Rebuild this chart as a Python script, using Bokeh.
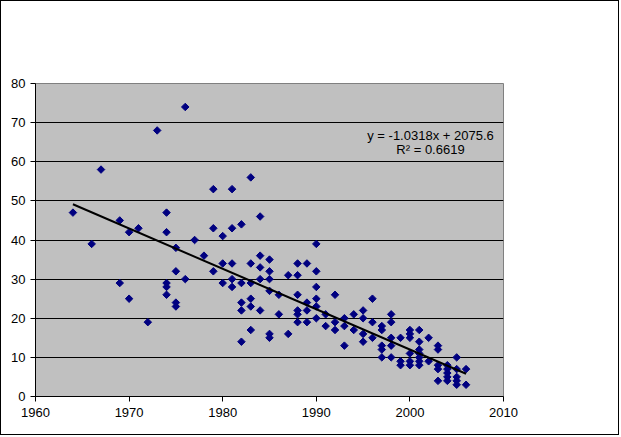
import numpy as np
from bokeh.plotting import figure
from bokeh.models import Label, Range1d, FixedTicker
from bokeh.embed import file_html
from bokeh.resources import INLINE

# ---- data ----
years = [1964, 1966, 1967,
         1969, 1969, 1970, 1970, 1971, 1972, 1973,
         1974, 1974, 1974, 1974, 1974,
         1975, 1975, 1975, 1975,
         1976, 1976, 1977, 1978,
         1979, 1979, 1979,
         1980, 1980, 1980,
         1981, 1981, 1981, 1981, 1981,
         1982, 1982, 1982, 1982, 1982,
         1983, 1983, 1983, 1983, 1983, 1983,
         1984, 1984, 1984, 1984, 1984,
         1985, 1985, 1985, 1985, 1985, 1985,
         1986, 1986, 1987, 1987,
         1988, 1988, 1988, 1988, 1988, 1988,
         1989, 1989, 1989, 1989,
         1990, 1990, 1990, 1990, 1990, 1990,
         1991, 1991, 1992, 1992, 1992,
         1993, 1993, 1993, 1994, 1994,
         1995, 1995, 1995, 1995,
         1996, 1996, 1996,
         1997, 1997, 1997, 1997, 1997,
         1998, 1998, 1998, 1998, 1998,
         1999, 1999, 1999,
         2000, 2000, 2000, 2000, 2000, 2000,
         2001, 2001, 2001, 2001, 2001, 2001, 2001,
         2002, 2002,
         2003, 2003, 2003, 2003, 2003,
         2004, 2004, 2004, 2004, 2004,
         2005, 2005, 2005, 2005, 2005,
         2006, 2006]
values = [47, 39, 58,
          45, 29, 42, 25, 43, 19, 68,
          47, 42, 29, 28, 26,
          38, 32, 24, 23,
          74, 30, 40, 36,
          53, 43, 32,
          41, 34, 29,
          53, 43, 34, 30, 28,
          44, 29, 24, 22, 14,
          56, 34, 29, 25, 23, 17,
          46, 36, 33, 30, 22,
          35, 32, 30, 27, 16, 15,
          26, 21, 31, 16,
          34, 31, 26, 22, 21, 19,
          34, 24, 22, 19,
          39, 32, 28, 25, 23, 20,
          21, 18, 26, 19, 17,
          20, 18, 13, 21, 17,
          22, 20, 16, 14,
          25, 19, 15,
          18, 17, 13, 12, 10,
          21, 19, 15, 13, 10,
          15, 9, 8,
          17, 16, 15, 11, 9, 8,
          17, 14, 12, 11, 10, 9, 8,
          15, 9,
          13, 12, 8, 7, 4,
          8, 7, 6, 5, 4,
          10, 7, 5, 4, 3,
          7, 3]

slope = -1.0318
intercept = 2075.6
r_squared = 0.6619
x_ticks = [1960, 1970, 1980, 1990, 2000, 2010]
y_ticks = [0, 10, 20, 30, 40, 50, 60, 70, 80]

FONT = "Liberation Sans"

p = figure(width=619, height=435, output_backend="svg", toolbar_location=None,
           x_range=Range1d(1960, 2010), y_range=Range1d(0, 80),
           min_border_left=34, min_border_right=117,
           min_border_top=82, min_border_bottom=40)
p.styles = {"border": "1px solid black"}
p.background_fill_color = "#C0C0C0"
p.border_fill_color = "white"
p.outline_line_color = "#808080"
p.outline_line_width = 1

p.xgrid.grid_line_color = None
p.ygrid.grid_line_color = "black"
p.ygrid.grid_line_width = 1

p.xaxis.ticker = FixedTicker(ticks=x_ticks)
p.yaxis.ticker = FixedTicker(ticks=y_ticks)
for ax in (p.xaxis, p.yaxis):
    ax.axis_line_color = "black"
    ax.major_tick_line_color = "black"
    ax.major_tick_in = 0
    ax.major_tick_out = 5
    ax.minor_tick_line_color = None
    ax.major_label_text_font = FONT
    ax.major_label_text_font_size = "13px"
    ax.major_label_text_color = "black"
p.xaxis.major_label_standoff = 6
p.yaxis.major_label_standoff = 5

p.scatter(years, values, marker="square", angle=np.pi / 4, size=5.3,
          fill_color="#000080", line_color="#000080")

x0, x1 = min(years), max(years)
p.line([x0, x1], [slope * x0 + intercept, slope * x1 + intercept],
       line_color="black", line_width=2)

eq = f"y = {slope}x + {intercept}"
p.add_layout(Label(x=2002.2, y=66.7, text=eq, text_align="center",
                   text_baseline="middle", text_font=FONT,
                   text_font_size="13px", text_color="black"))
p.add_layout(Label(x=2002.2, y=63.1, text=f"R² = {r_squared}", text_align="center",
                   text_baseline="middle", text_font=FONT,
                   text_font_size="13px", text_color="black"))

open("out.html", "w").write(file_html(p, INLINE))
